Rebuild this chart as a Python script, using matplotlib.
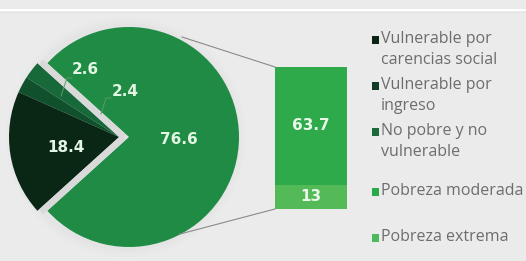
import matplotlib
matplotlib.use("Agg")
import matplotlib.pyplot as plt
from matplotlib.patches import Circle
import numpy as np

# Data
pie_labels = ["Pobreza", "No pobre y no vulnerable", "Vulnerable por ingreso", "Vulnerable por carencias social"]
pie_values = [76.6, 2.6, 2.4, 18.4]
pie_colors = ["#1f8b45", "#17693a", "#10502c", "#0a2716"]

bar_labels = ["Pobreza extrema", "Pobreza moderada"]
bar_values = [13, 63.7]
bar_colors = ["#54ba58", "#2eaa4b"]

legend_labels = ["Vulnerable por\ncarencias social", "Vulnerable por\ningreso",
                 "No pobre y no\nvulnerable", "Pobreza moderada", "Pobreza extrema"]
legend_colors = ["#0c2416", "#123d26", "#1a6a3a", "#2aa84a", "#4cba5a"]
legend_y = [40, 86, 132, 192, 238]

W, H = 526, 261
fig = plt.figure(figsize=(W / 100, H / 100), dpi=100)
fig.patch.set_facecolor("#ebebeb")

# pie in its own axes (data coords in pixels, y up)
pax = fig.add_axes([0, 0, 1, 1])
pax.axis("off")
cx, cy, r = 129, H - 137, 110
for k, a in enumerate([0.05, 0.04, 0.03]):
    pax.add_patch(Circle((cx - 3, cy), r + 4 + 3 * k, color="#b8b8b8", alpha=a, lw=0))
start = -pie_values[0] / 100 * 360 / 2
wedges, _ = pax.pie(pie_values, colors=pie_colors, startangle=start, counterclock=True,
                    center=(cx, cy), radius=r,
                    wedgeprops=dict(linewidth=0))
pax.set_xlim(0, W)
pax.set_ylim(0, H)
pax.set_aspect("auto")
for w in wedges[1:]:
    w.set_center((cx - 10, cy))
for ang in [start, -start]:
    t = np.deg2rad(ang)
    pax.plot([cx - 5, cx - 5 + (r + 2) * np.cos(t)], [cy, cy + (r + 2) * np.sin(t)],
             color="#d9d9d9", lw=4.5, solid_capstyle="butt")

ax = fig.add_axes([0, 0, 1, 1])
ax.set_xlim(0, W)
ax.set_ylim(H, 0)
ax.axis("off")

# header separator
ax.plot([0, W], [9.5, 9.5], color="white", lw=2.2)
ax.plot([0, W], [11.5, 11.5], color="#dcdcdc", lw=1.2, alpha=0.6)

txt_kw = dict(color="#e3f6e3", fontsize=11, fontweight="bold", ha="center", va="center")
ax.text(179, 140, "76.6", **txt_kw)
ax.text(66, 148, "18.4", **txt_kw)
ax.text(85, 69, "2.6", **txt_kw)
ax.text(125, 91, "2.4", **txt_kw)
ax.plot([72, 67, 61], [78, 78, 96], color="#5a9a6a", lw=0.7)
ax.plot([111, 106, 101], [98, 98, 114], color="#5a9a6a", lw=0.7)

# connector lines
ax.plot([182, 275], [37, 67], color="#8a8a8a", lw=0.8)
ax.plot([180, 275], [234, 209], color="#8a8a8a", lw=0.8)

# stacked bar
bx0, by0, bw, bh = 275, 67, 72, 142
bax = fig.add_axes([bx0 / W, 1 - (by0 + bh) / H, bw / W, bh / H])
bottom = 0
for v, c in zip(bar_values, bar_colors):
    bax.bar(0, v, bottom=bottom, width=1, color=c, linewidth=0)
    bax.text(0, bottom + v / 2, f"{v:g}", color="#e8f8e8", fontsize=11,
             fontweight="bold", ha="center", va="center")
    bottom += v
bax.set_xlim(-0.5, 0.5)
bax.set_ylim(0, sum(bar_values))
bax.axis("off")

# legend
for lab, col, y in zip(legend_labels, legend_colors, legend_y):
    ax.add_patch(plt.Rectangle((372, y - 4), 7, 8, color=col, lw=0))
    ax.text(381, y - 9, lab, color="#6d6d6d", fontsize=11.5, family="Open Sans",
            ha="left", va="top", linespacing=1.4)

fig.savefig("out.png", dpi=100, facecolor=fig.get_facecolor())
